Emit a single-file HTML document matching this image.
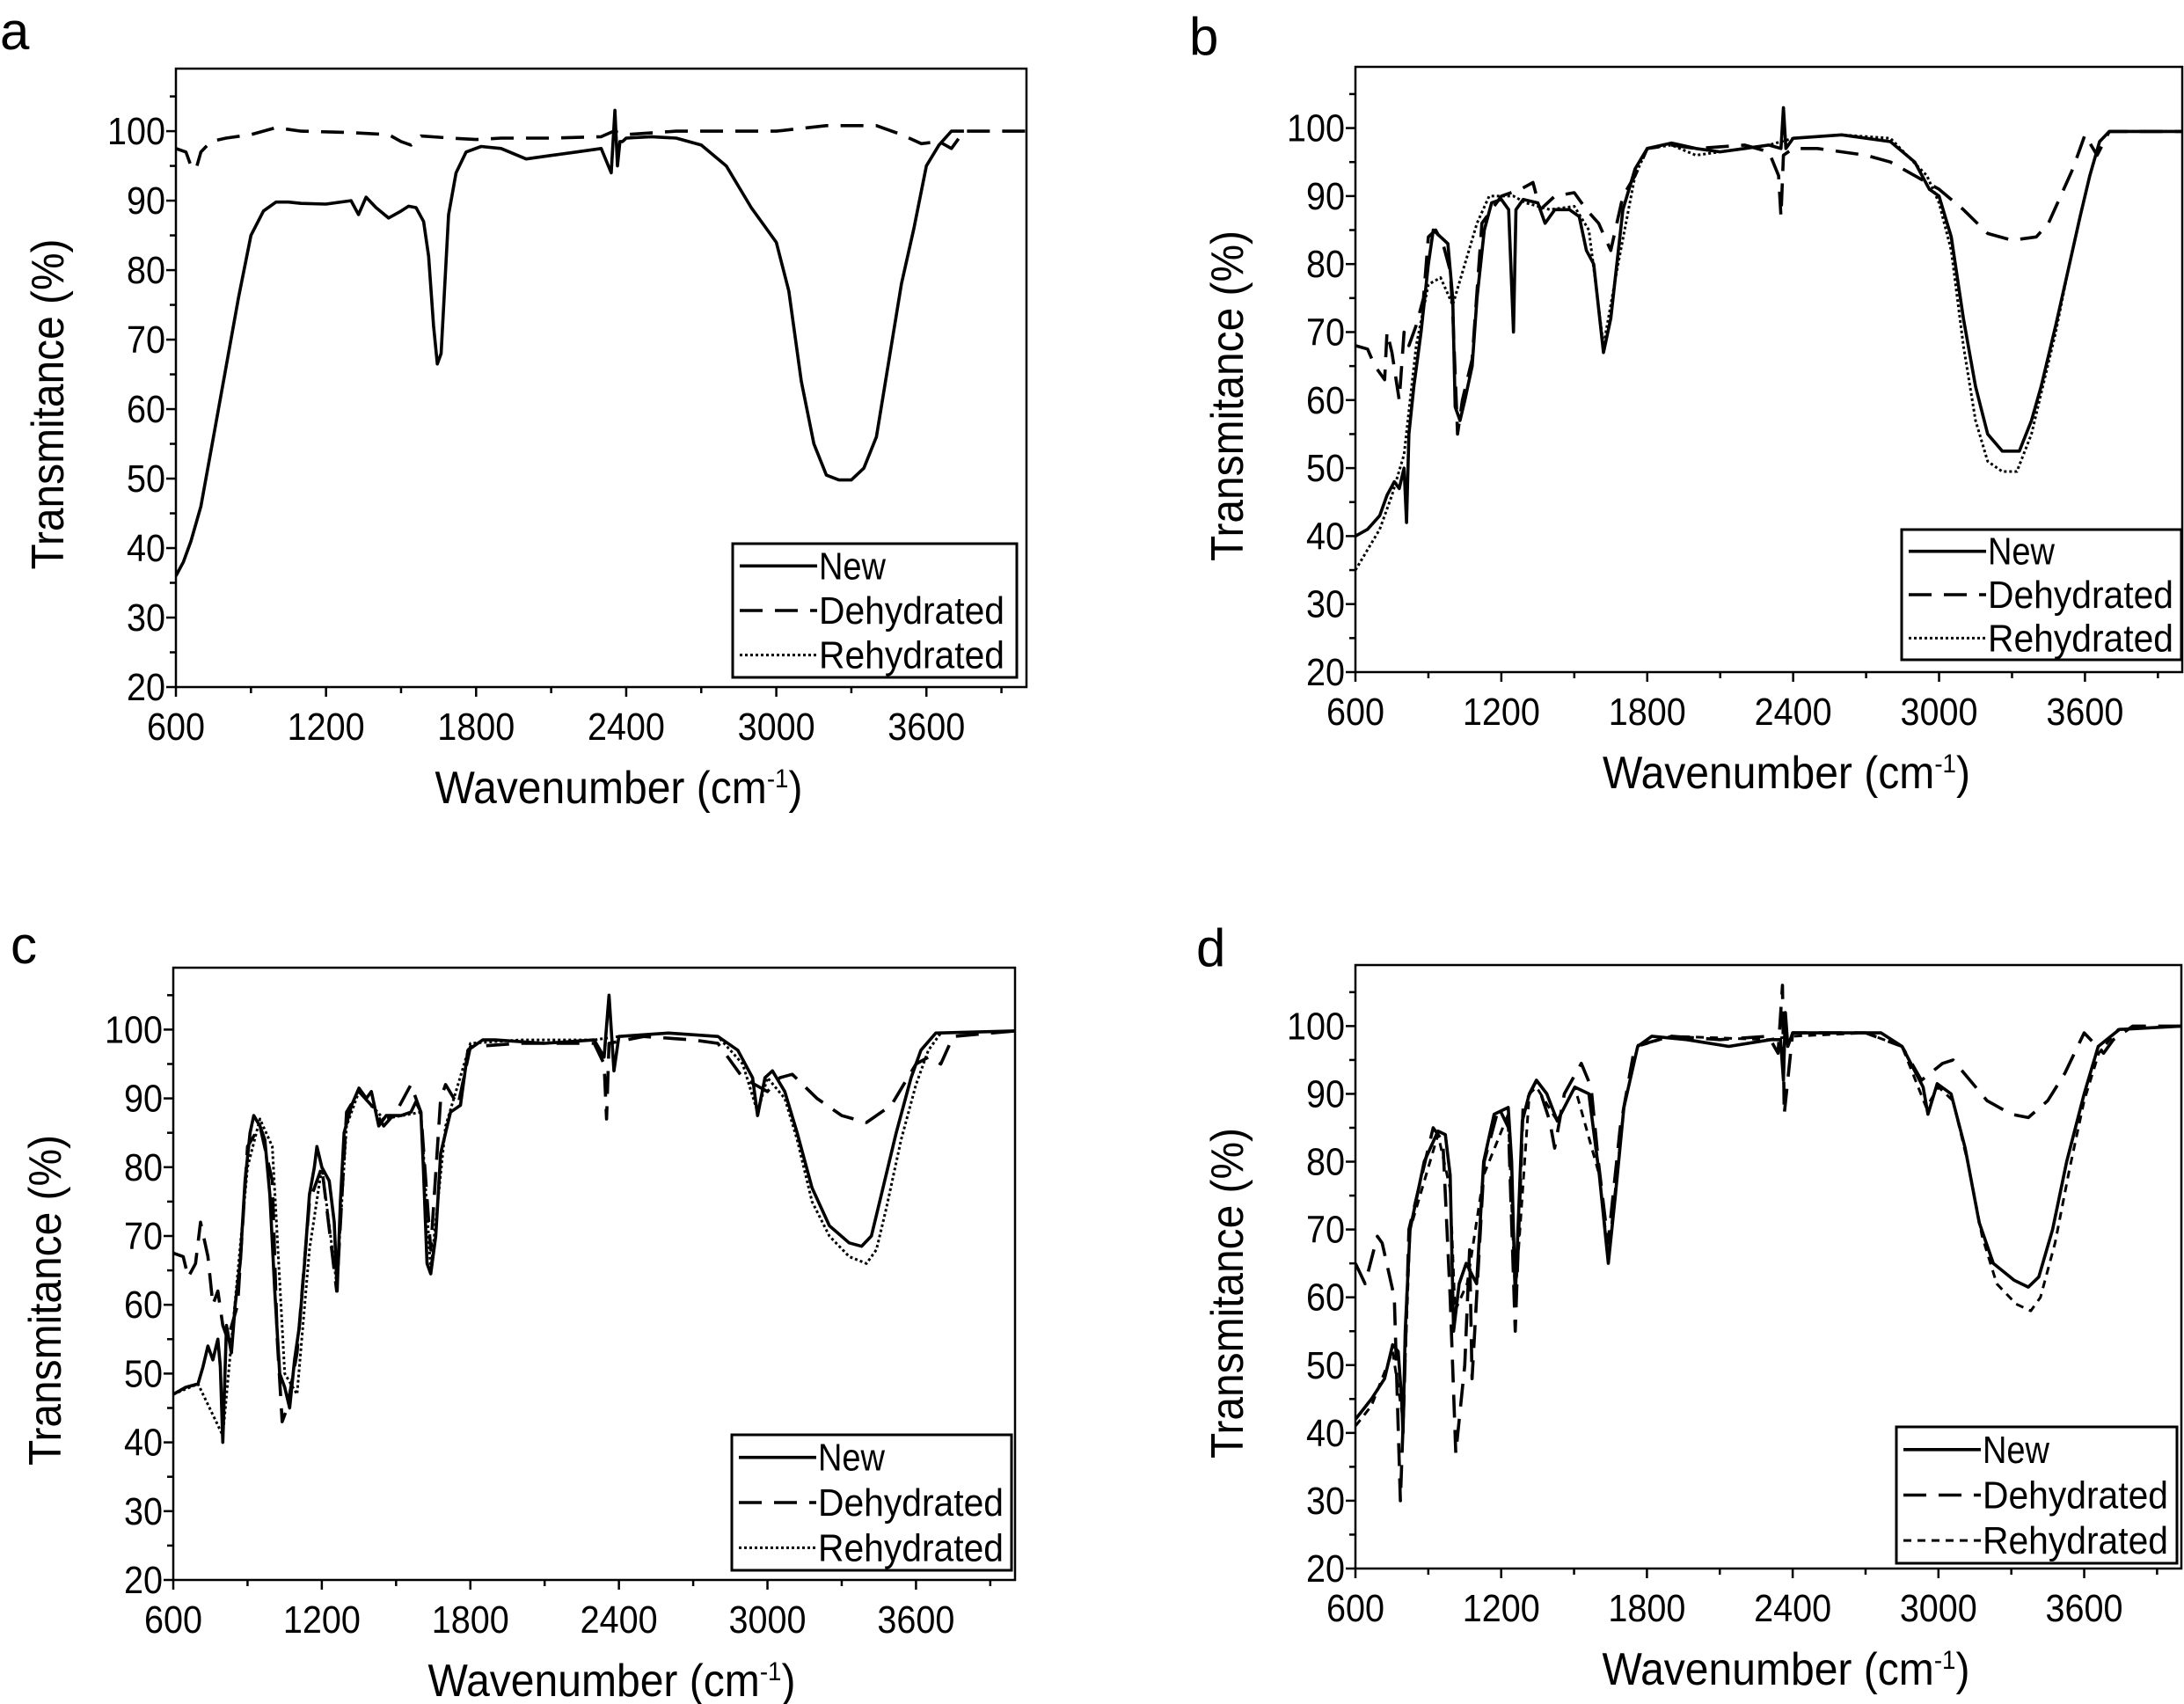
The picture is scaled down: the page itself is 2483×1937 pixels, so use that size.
<!DOCTYPE html>
<html><head><meta charset="utf-8"><title>FTIR spectra</title>
<style>
html,body{margin:0;padding:0;background:#fff;}
svg{display:block;font-family:"Liberation Sans",Arial,sans-serif;}
</style></head>
<body>
<svg id="fig" width="2483" height="1937" viewBox="0 0 2483 1937" xmlns="http://www.w3.org/2000/svg"></svg>
<script>
// ---------- data (wavenumber cm-1, transmittance %) ----------
const xTicks = [600, 1200, 1800, 2400, 3000, 3600];
const yTicks = [20, 30, 40, 50, 60, 70, 80, 90, 100];
const seriesNames = ["New", "Dehydrated", "Rehydrated"];

const aNewX = [600,630,660,700,750,800,850,900,950,1000,1050,1100,1200,1300,1330,1360,1400,1450,1500,1530,1560,1590,1610,1630,1645,1660,1690,1720,1760,1820,1900,2000,2100,2200,2300,2340,2355,2365,2375,2385,2400,2500,2600,2700,2800,2900,3000,3050,3100,3150,3200,3250,3300,3350,3400,3450,3500,3550,3600,3650,3700,3750,4000];
const aNewY = [36,38,41,46,56,66,76,85,88.5,89.8,89.8,89.6,89.5,90,88,90.5,89,87.5,88.5,89.2,89,87,82,72,66.5,68,88,94,97,97.8,97.5,96,96.5,97,97.5,94,103,95,98.5,98.5,99,99.2,99,98,95,89,84,77,64,55,50.5,49.8,49.8,51.5,56,67,78,86,95,98,100,100];
const aDehX = [600,640,660,680,700,740,800,900,1000,1100,1300,1450,1500,1540,1580,1700,1800,1900,2100,2300,2350,2400,2600,2900,3000,3200,3400,3500,3580,3650,3700,3750,4000];
const aDehY = [97.5,97,95,94.5,97,98.5,99,99.5,100.5,100,99.8,99.5,98.5,98,99.3,99,98.8,99,99,99.2,100,99.5,100,100,100,100.8,100.8,99.5,98.2,98.5,97.5,100,100];
const aRehX = [];
const aRehY = [];

const bNewX = [600,650,700,730,760,780,800,810,820,840,870,900,920,950,980,1000,1010,1030,1050,1080,1100,1130,1160,1200,1230,1250,1260,1290,1350,1380,1420,1480,1520,1550,1580,1620,1650,1700,1750,1800,1900,2000,2100,2200,2300,2350,2360,2370,2400,2600,2800,2900,2960,3000,3050,3100,3150,3200,3260,3330,3380,3420,3480,3530,3580,3620,3660,3700,4000];
const bNewY = [40,41,43,46,48,47,50,42,55,62,70,80,85,84,83,75,59,57,60,65,75,85,89,89.5,88,70,88,89.5,89,86,88,88,87,82,80,67,72,88,94,97,97.8,97,96.5,97,97.5,97,103,97,98.5,99,98,95,91,90,84,72,62,55,52.5,52.5,57,62,71,79,87,93,98,99.5,99.5];
const bDehX = [600,650,680,720,730,750,780,800,820,850,880,900,930,960,990,1000,1020,1040,1080,1120,1200,1280,1330,1360,1420,1500,1550,1600,1650,1700,1750,1800,1900,2000,2200,2300,2340,2350,2360,2400,2500,2600,2700,2800,2900,3000,3100,3200,3300,3400,3450,3500,3550,3600,3650,3700,4000];
const bDehY = [68,67.5,65,63,70,67,60,70,68,71,75,84,85,83,79,73,55,60,66,86,90,91,92,88,90,90.5,88,86,82,90,93,97,97.5,97,97.5,96.5,93,87,96,97,97,96.5,96,95,93,91,88,84.5,83.5,84,86,90,94,99,96,99.5,99.5];
const bRehX = [600,650,700,750,800,850,900,950,1000,1050,1100,1150,1250,1300,1400,1500,1560,1620,1680,1750,1800,1900,2000,2300,2400,2600,2800,2950,3000,3050,3100,3150,3200,3260,3320,3380,3420,3480,3530,3580,3620,3660,3700,4000];
const bRehY = [35,38,41,46,52,68,77,78,74,80,86,90,90,89,88,88.5,85,68,80,93,97,97.5,96,97.5,98.5,99,98.5,93,89,82,68,57,51,49.5,49.5,55,61,70,79,87,93,98,99.5,99.5];

const cNewX = [600,650,700,720,740,760,780,790,800,815,835,850,870,890,910,925,950,970,990,1010,1030,1050,1070,1090,1110,1130,1150,1170,1180,1200,1230,1250,1262,1275,1290,1320,1350,1380,1400,1430,1460,1520,1560,1580,1600,1610,1625,1640,1660,1680,1720,1760,1790,1850,1900,2100,2300,2340,2360,2380,2400,2600,2800,2880,2940,2960,2990,3020,3070,3120,3180,3250,3330,3380,3420,3460,3520,3580,3620,3680,4000];
const cNewY = [47,48,48.5,51,54,52,55,51,40,57,53,60,66,78,85,87.5,86,84,76,62,50,48,45,52,57,66,76,80,83,80,78,72,62,75,85,89,91.5,90,91,86,87.5,87.5,88,89.5,88,80,66,64.5,70,82,88,89,97,98.5,98.5,98,98.5,96,105,94,99,99.5,99,97,93,87.5,93,94,91,85,77,71.5,69,68.5,70,76,85,93,97,99.5,99.8];
const cDehX = [600,640,660,690,710,740,760,780,800,820,860,900,950,1000,1020,1040,1060,1100,1150,1200,1260,1300,1350,1400,1450,1500,1560,1600,1640,1680,1700,1750,1800,2000,2300,2340,2350,2360,2500,2700,2800,2900,3000,3050,3100,3200,3300,3400,3500,3600,3650,3700,3750,4000];
const cDehY = [67.5,67,64,66,72,67,60,62,57,55,60,83,86,78,55,43,45,53,75,80,62,88,91,89,86,88,92,88,68,90,92,89,97.5,98,98,95,87,98,99,98.5,98,93,91,93,93.5,90,87.5,86.5,89,95,96,95,99,99.8];
const cRehX = [600,700,800,900,950,1000,1050,1100,1150,1200,1260,1300,1350,1450,1600,1640,1700,1800,2000,2300,2400,2600,2800,2900,2960,3000,3070,3120,3180,3250,3330,3400,3440,3480,3540,3600,3650,3700,4000];
const cRehY = [47,48.5,41,80,87,83,50,47,68,80,63,86,91,87,88,65,86,98,98.5,98.5,99,99.5,99,95,88,93,90,84,75,70,67,66,68,74,84,92,97,99.5,99.8];

const dNewX = [600,666,720,753,776,790,796,805,825,883,940,970,990,1004,1027,1056,1099,1128,1171,1229,1243,1258,1287,1316,1345,1388,1431,1503,1561,1604,1641,1670,1705,1762,1820,1964,2137,2310,2350,2362,2370,2380,2400,2560,2764,2850,2937,2957,2995,3052,3110,3168,3226,3312,3370,3413,3470,3528,3600,3658,3745,4000];
const dNewY = [42,45,48,53,52,45,40,55,70,80,84.5,84,78,55,62,65,62,80,87,88,80,60,86,90,92,90,86,91,90,78,65,75,88,97,98.5,98,97,98,98,92,102,97,99,99,99,97,91,87,91.5,90,82,71,65,62.5,61.5,63,70,80,90,97,99.5,100];
const dDehX = [600,640,690,710,760,785,800,820,920,960,990,1013,1050,1070,1080,1130,1190,1230,1258,1290,1345,1400,1420,1460,1530,1570,1600,1640,1690,1750,1900,2100,2300,2340,2358,2365,2400,2700,2850,2930,3017,3060,3130,3200,3300,3370,3450,3520,3600,3680,3720,3800,4000];
const dDehY = [65,62,69,68,60,30,45,70,85,83,60,37,50,67,48,80,88,85,55,88,92,86,82,90,94.5,91,80,68,85,97,98.5,98,98.5,96,106,87,99,99,97,92,94.5,95,92,89,87,86.5,89,93,99,96,98,100,100];
const dRehX = [600,666,753,796,825,940,990,1010,1060,1128,1229,1258,1316,1345,1431,1503,1604,1641,1705,1762,1900,2300,2400,2700,2850,2950,3000,3060,3120,3180,3240,3320,3380,3420,3480,3540,3600,3660,3740,4000];
const dRehY = [41,44,52,42,70,84,76,58,62,78,87,60,90,91,86,91,78,66,88,97,98.5,98,98.5,99,97,88,91,89,80,69,62,59,58,60,68,79,89,96,99.5,100];

// ---------- rendering ----------
const NS = "http://www.w3.org/2000/svg";
const svg = document.getElementById("fig");
function mk(tag, attrs, parent, text) {
  const e = document.createElementNS(NS, tag);
  for (const k in attrs) e.setAttribute(k, attrs[k]);
  if (text !== undefined) e.textContent = text;
  (parent || svg).appendChild(e);
  return e;
}
const styles = [
  {dash: "", w: 3.6},
  {dash: "26,14", w: 3.6},
  {dash: "3,3", w: 3}
];
const panels = [
  {id:"a", L:200, R:1167, T:78, B:781, lab:[0,56], leg:[833,618,323,152], series:[[aNewX,aNewY],[aDehX,aDehY],[aRehX,aRehY]], rehDash:"3,3"},
  {id:"b", L:1541, R:2481, T:76, B:764, lab:[1352,62], leg:[2162,602,318,148], series:[[bNewX,bNewY],[bDehX,bDehY],[bRehX,bRehY]], rehDash:"3,3"},
  {id:"c", L:197, R:1154, T:1100, B:1796, lab:[12,1095], leg:[832,1631,318,154], series:[[cNewX,cNewY],[cDehX,cDehY],[cRehX,cRehY]], rehDash:"3,3"},
  {id:"d", L:1541, R:2480, T:1097, B:1783, lab:[1360,1098], leg:[2156,1622,319,155], series:[[dNewX,dNewY],[dDehX,dDehY],[dRehX,dRehY]], rehDash:"9,7"}
];
const X0 = 600, X1 = 4000, Y0 = 20, Y1 = 109;
const legendWidths = [76, 211, 211];

panels.forEach(p => {
  const g = mk("g", {});
  
  
  const sx = v => p.L + (v - X0) / (X1 - X0) * (p.R - p.L);
  const sy = v => p.B - (v - Y0) / (Y1 - Y0) * (p.B - p.T);

  const lab = mk("text", {x:p.lab[0], y:p.lab[1], "font-size":60, fill:"#000"}, g, p.id);
  
  

  const cp = mk("clipPath", {id:"clip-" + p.id}, g);
  mk("rect", {x:p.L, y:p.T, width:p.R - p.L, height:p.B - p.T}, cp);

  const sg = mk("g", {"clip-path":"url(#clip-" + p.id + ")"}, g);
  p.series.forEach((s, i) => {
    if (!s[0].length) return;
    let d = "";
    for (let k = 0; k < s[0].length; k++) d += (k ? "L" : "M") + sx(s[0][k]).toFixed(1) + "," + sy(s[1][k]).toFixed(1);
    const dash = i === 2 ? p.rehDash : styles[i].dash;
    const path = mk("path", {d:d, fill:"none", stroke:"#000", "stroke-width":styles[i].w, "stroke-dasharray":dash, "stroke-linejoin":"round"}, sg);
    
    
  });

  const fr = mk("rect", {x:p.L, y:p.T, width:p.R - p.L, height:p.B - p.T, fill:"none", stroke:"#000", "stroke-width":2.5}, g);
  
  

  const xa = mk("g", {}, g);
  
  
  for (let v = 600; v < X1; v += 300) {
    const major = xTicks.indexOf(v) >= 0;
    mk("line", {x1:sx(v), x2:sx(v), y1:p.B, y2:p.B + (major ? 11 : 7), stroke:"#000", "stroke-width":2.5}, xa);
  }
  xTicks.forEach(v => {
    const s = String(v);
    const t = mk("text", {x:sx(v), y:p.B + 60, "font-size":44, "text-anchor":"middle", textLength:s.length * 22, lengthAdjust:"spacingAndGlyphs"}, xa, s);
    
    
  });
  const ya = mk("g", {}, g);
  
  
  for (let v = 20; v <= 105; v += 5) {
    const major = yTicks.indexOf(v) >= 0;
    mk("line", {x1:p.L, x2:p.L - (major ? 11 : 7), y1:sy(v), y2:sy(v), stroke:"#000", "stroke-width":2.5}, ya);
  }
  yTicks.forEach(v => {
    const s = String(v);
    const t = mk("text", {x:p.L - 12, y:sy(v) + 15, "font-size":44, "text-anchor":"end", textLength:s.length * 22, lengthAdjust:"spacingAndGlyphs"}, ya, s);
    
    
  });

  const xt = mk("text", {x:(p.L + p.R) / 2 + 20, y:p.B + 132, "font-size":52, "text-anchor":"middle", textLength:418, lengthAdjust:"spacingAndGlyphs"}, g);
  
  
  mk("tspan", {}, xt, "Wavenumber (cm");
  mk("tspan", {dy:-18, "font-size":30}, xt, "-1");
  mk("tspan", {dy:18}, xt, ")");
  const cy = (p.T + p.B) / 2 + 30;
  const yt = mk("text", {x:p.L - 128, y:cy, "font-size":52, "text-anchor":"middle", textLength:376, lengthAdjust:"spacingAndGlyphs", transform:"rotate(-90 " + (p.L - 128) + " " + cy + ")"}, g, "Transmitance (%)");
  
  

  const [lx, ly, lw, lh] = p.leg;
  const lg = mk("g", {}, g);
  
  
  mk("rect", {x:lx, y:ly, width:lw, height:lh, fill:"#fff", stroke:"#000", "stroke-width":3}, lg);
  seriesNames.forEach((n, i) => {
    const ry = ly + lh * (2 * i + 1) / 6;
    const ent = mk("g", {}, lg);
    
    
    const dash = i === 2 ? p.rehDash : styles[i].dash;
    mk("line", {x1:lx + 8, x2:lx + 96, y1:ry, y2:ry, stroke:"#000", "stroke-width":styles[i].w, "stroke-dasharray":dash}, ent);
    mk("text", {x:lx + 98, y:ry + 15, "font-size":44, textLength:legendWidths[i], lengthAdjust:"spacingAndGlyphs"}, ent, n);
  });
});
</script>
</body></html>
